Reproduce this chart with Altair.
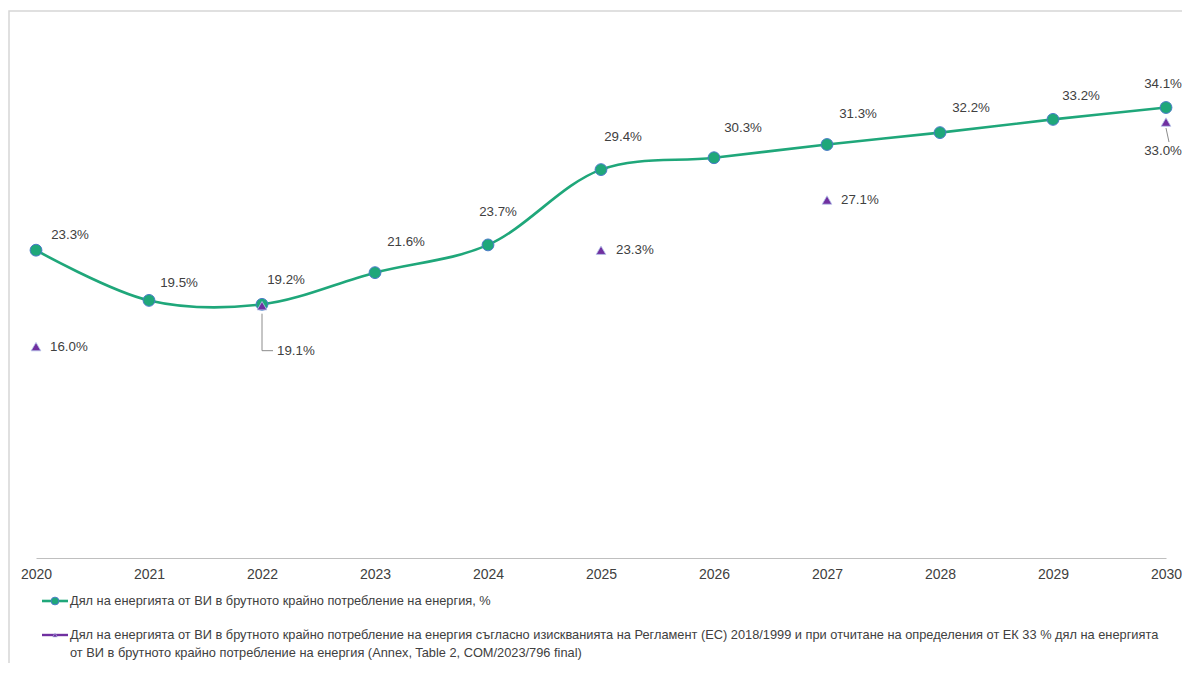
import altair as alt
import pandas as pd

years = [2020, 2021, 2022, 2023, 2024, 2025, 2026, 2027, 2028, 2029, 2030]
share = [23.3, 19.5, 19.2, 21.6, 23.7, 29.4, 30.3, 31.3, 32.2, 33.2, 34.1]
target_years = [2020, 2022, 2025, 2027, 2030]
target = [16.0, 19.1, 23.3, 27.1, 33.0]

series1 = "Дял на енергията от ВИ в брутното крайно потребление на енергия, %"
series2 = ["Дял на енергията от ВИ в брутното крайно потребление на енергия съгласно изискванията  на Регламент (ЕС) 2018/1999 и при отчитане на определения от ЕК 33 % дял на енергията",
           "от ВИ в брутното крайно потребление на енергия (Annex, Table 2, COM/2023/796 final)"]

GREEN = "#1fa77a"
PURPLE = "#7030a0"
EDGE = "#4a7bc8"
TXT = "#404040"
FONT = "Liberation Sans"

df = pd.DataFrame({"year": years, "share": share})
dt = pd.DataFrame({"year": target_years, "target": target})
df["lbl"] = [f"{v:.1f}%" for v in share]
dt["lbl"] = [f"{v:.1f}%" for v in target]

xs = alt.Scale(domain=[2020, 2030], nice=False, zero=False)
ys = alt.Scale(domain=[0, 38], nice=False)
X = alt.X("year:Q", scale=xs, axis=alt.Axis(values=years, format="d", title=None, grid=False,
          ticks=False, domainColor="#bfbfbf", domainWidth=1.2, labelColor=TXT, labelFont=FONT,
          labelFontSize=14, labelPadding=9, labelFlush=False, labelOverlap=False, labelBound=False))
Y = alt.Y("share:Q", scale=ys, axis=None)
YT = alt.Y("target:Q", scale=ys, axis=None)

one = pd.DataFrame({"k": [0]})

frame = alt.Chart(one).mark_rect(fill=None, stroke="#d6d6d6", strokeWidth=1.5).encode(
    x=alt.value(-27), x2=alt.value(1200), y=alt.value(-45), y2=alt.value(720))

base = alt.Chart(df)
line = base.mark_line(color=GREEN, strokeWidth=2.6, interpolate="catmull-rom").encode(x=X, y=Y)
pts = base.mark_circle(size=140, color=GREEN, opacity=1, stroke=EDGE, strokeWidth=1).encode(x=X, y=Y)

tbase = alt.Chart(dt)
tri = tbase.mark_point(shape="triangle-up", size=95, filled=True, color=PURPLE, opacity=1,
                       stroke="#b8c8ec", strokeWidth=0.8).encode(x=X, y=YT)

# label offsets (dx, dy) for the line's data labels
lab_off = {2020: (34, -15), 2021: (30, -17), 2022: (24, -24), 2023: (31, -31), 2024: (10, -33),
           2025: (22, -33), 2026: (29, -30), 2027: (31, -31), 2028: (31, -25), 2029: (28, -23),
           2030: (-3, -24)}
labels = []
for yr, (dx, dy) in lab_off.items():
    labels.append(base.transform_filter(alt.datum.year == yr).mark_text(
        font=FONT, fontSize=13.3, color=TXT, align="center", baseline="middle", dx=dx, dy=dy
    ).encode(x=X, y=Y, text="lbl:N"))

tlab_off = {2020: (14, 0, "left"), 2022: (15, 45, "left"), 2025: (15, 0, "left"),
            2027: (14, 0, "left"), 2030: (-3, 29, "center")}
for yr, (dx, dy, al) in tlab_off.items():
    labels.append(tbase.transform_filter(alt.datum.year == yr).mark_text(
        font=FONT, fontSize=13.3, color=TXT, align=al, baseline="middle", dx=dx, dy=dy
    ).encode(x=X, y=YT, text="lbl:N"))

lead1 = tbase.transform_filter(alt.datum.year == 2022).mark_rule(
    color="#8c8c8c", strokeWidth=1, yOffset=8, y2Offset=45).encode(
    x=X, x2="year:Q", y=YT, y2="target:Q")
lead2 = tbase.transform_filter(alt.datum.year == 2022).mark_rule(
    color="#8c8c8c", strokeWidth=1, yOffset=45, y2Offset=45, x2Offset=11).encode(
    x=X, x2="year:Q", y=YT, y2="target:Q")
lead3 = tbase.transform_filter(alt.datum.year == 2030).mark_rule(
    color="#8c8c8c", strokeWidth=1, yOffset=6, y2Offset=20, x2Offset=3).encode(
    x=X, x2="year:Q", y=YT, y2="target:Q")

# legend
oc = alt.Chart(one)
leg = [
    oc.mark_rule(color=GREEN, strokeWidth=2.6).encode(x=alt.value(6), x2=alt.value(32), y=alt.value(545)),
    oc.mark_circle(size=60, color=GREEN, opacity=1, stroke=EDGE, strokeWidth=1).encode(x=alt.value(19), y=alt.value(545)),
    oc.mark_text(font=FONT, fontSize=12.8, color=TXT, align="left", baseline="middle").encode(
        x=alt.value(34), y=alt.value(545), text=alt.value(series1)),
    oc.mark_rule(color=PURPLE, strokeWidth=2.4).encode(x=alt.value(6), x2=alt.value(32), y=alt.value(579)),
    oc.mark_point(shape="triangle-up", size=22, filled=True, color=PURPLE, opacity=1,
                  stroke="#b8c8ec", strokeWidth=0.6).encode(x=alt.value(19), y=alt.value(579)),
    oc.mark_text(font=FONT, fontSize=12.8, color=TXT, align="left", baseline="middle", lineHeight=18).encode(
        x=alt.value(34), y=alt.value(579), text=alt.value(series2)),
]

chart = alt.layer(frame, line, pts, lead1, lead2, lead3, tri, *labels, *leg).properties(
    width=1130, height=502,
    autosize=alt.AutoSizeParams(type="none"),
    padding={"left": 28, "top": 48, "right": 16, "bottom": 105},
).configure(background="white").configure_view(stroke=None)

chart.save("out.html", embed_options={"renderer": "svg", "actions": False})
